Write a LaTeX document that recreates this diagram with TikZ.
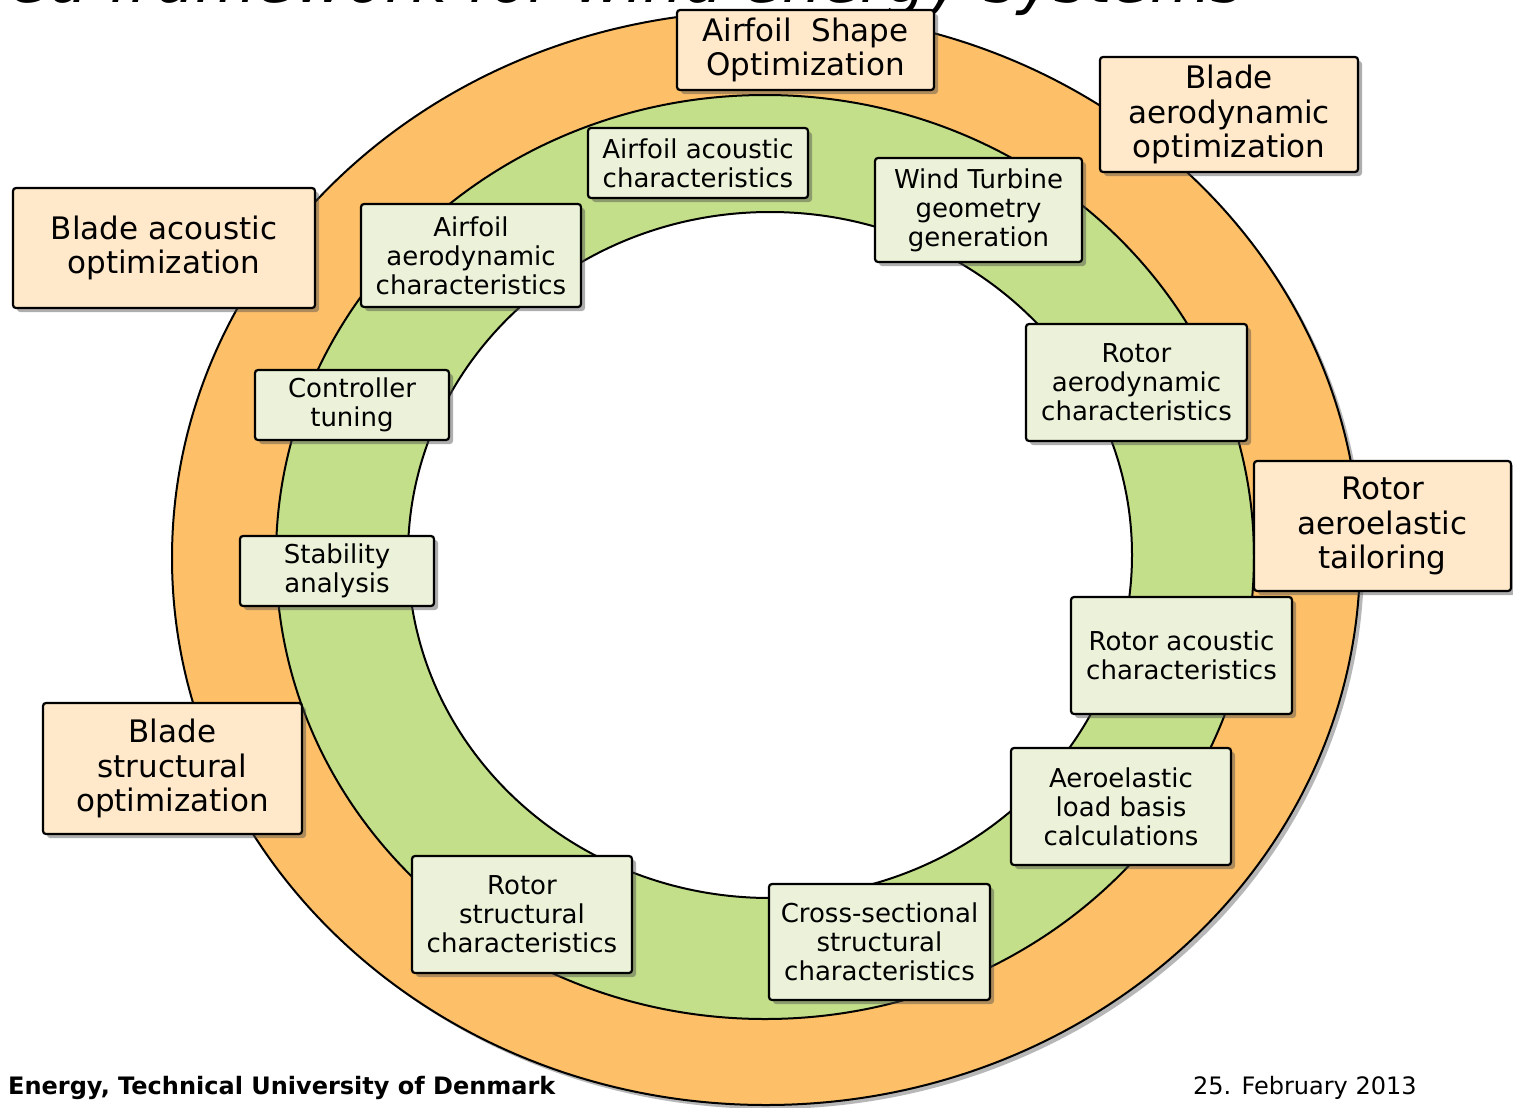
\documentclass[tikz,border=0pt]{standalone}
\usepackage{fontspec}
\setmainfont{DejaVu Sans}
\usetikzlibrary{shadows}
\definecolor{ringorange}{RGB}{253,192,104}
\definecolor{ringgreen}{RGB}{195,223,137}
\definecolor{boxorange}{RGB}{255,233,202}
\definecolor{boxgreen}{RGB}{235,242,217}
\tikzset{
  shad/.style={drop shadow={shadow xshift=4pt,shadow yshift=-4pt,opacity=0.45,fill=black!70}},
  outerbox/.style={draw=black,line width=2.2pt,fill=boxorange,rounded corners=3pt,shad,align=center,inner sep=0pt,font=\fontsize{31}{34.5}\selectfont},
  innerbox/.style={draw=black,line width=2.2pt,fill=boxgreen,rounded corners=3pt,shad,align=center,inner sep=0pt,font=\fontsize{26}{29}\selectfont},
}
\begin{document}
\begin{tikzpicture}[x=1pt,y=-1pt]
\useasboundingbox (0,0) rectangle (1513,1108);
\clip (0,0) rectangle (1513,1108);
\fill[white] (0,0) rectangle (1513,1108);
% title (cropped at the top edge, as in the reference)
\node[anchor=base east,inner sep=0pt,font=\fontsize{63}{68}\selectfont\itshape] (title) at (1245,3) {ed framework for wind energy systems};
% rings
\fill[black!70,opacity=0.4] (770,562) ellipse [x radius=594pt,y radius=547pt];
\draw[line width=2pt,fill=ringorange] (766,558) ellipse [x radius=594pt,y radius=547pt];
\draw[line width=2pt,fill=ringgreen] (765,557) ellipse [x radius=489pt,y radius=462pt];
\draw[line width=2pt,fill=white] (770,555) ellipse [x radius=362pt,y radius=343pt];
% outer boxes
\node[outerbox,minimum width=257pt,minimum height=80pt] (aso) at (805.5,50) {Airfoil~ Shape\\Optimization};
\node[outerbox,minimum width=258pt,minimum height=115pt] (bao) at (1229,114.5) {Blade\\aerodynamic\\optimization};
\node[outerbox,minimum width=302pt,minimum height=120pt] (bac) at (164,248) {Blade acoustic\\optimization};
\node[outerbox,minimum width=257pt,minimum height=130pt] (rat) at (1382.5,526) {Rotor\\aeroelastic\\tailoring};
\node[outerbox,minimum width=259pt,minimum height=131pt] (bso) at (172.5,768.5) {Blade\\structural\\optimization};
% inner boxes
\node[innerbox,minimum width=220pt,minimum height=70pt] (aac) at (698,163) {Airfoil acoustic\\characteristics};
\node[innerbox,minimum width=207pt,minimum height=104pt] (wtg) at (978.5,210) {Wind Turbine\\geometry\\generation};
\node[innerbox,minimum width=220pt,minimum height=103pt] (aad) at (471,255.5) {Airfoil\\aerodynamic\\characteristics};
\node[innerbox,minimum width=221pt,minimum height=117pt] (rad) at (1136.5,382.5) {Rotor\\aerodynamic\\characteristics};
\node[innerbox,minimum width=194pt,minimum height=70pt] (ctl) at (352,405) {Controller\\tuning};
\node[innerbox,minimum width=194pt,minimum height=70pt] (stb) at (337,571) {Stability\\analysis};
\node[innerbox,minimum width=221pt,minimum height=117pt] (rac) at (1181.5,655.5) {Rotor acoustic\\characteristics};
\node[innerbox,minimum width=220pt,minimum height=117pt] (alb) at (1121,806.5) {Aeroelastic\\load basis\\calculations};
\node[innerbox,minimum width=220pt,minimum height=117pt] (rsc) at (522,914.5) {Rotor\\structural\\characteristics};
\node[innerbox,minimum width=221pt,minimum height=116pt] (csc) at (879.5,942) {Cross-sectional\\structural\\characteristics};
% footer
\node[anchor=base west,inner sep=0pt,font=\fontsize{24}{28}\selectfont\bfseries] (foot) at (8,1094) {Energy, Technical University of Denmark};
\node[anchor=base west,inner sep=0pt,font=\fontsize{24}{28}\selectfont] (date) at (1193,1094) {25. February 2013};
\end{tikzpicture}
\end{document}
